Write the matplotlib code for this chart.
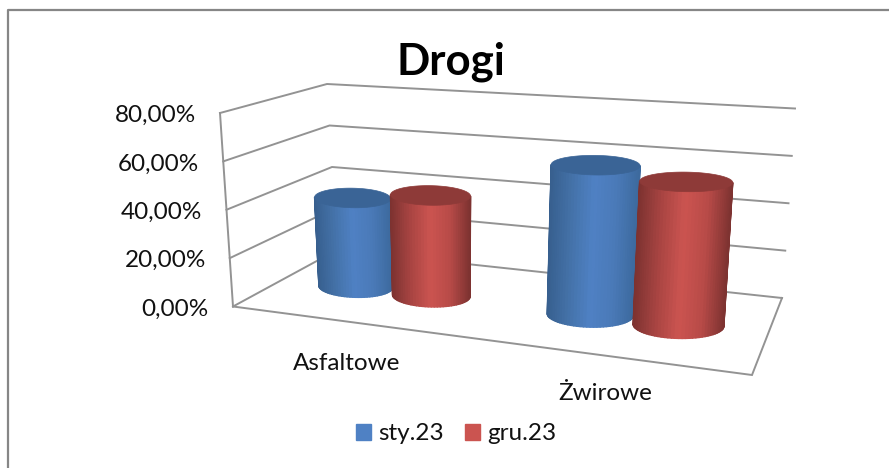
import matplotlib
matplotlib.use('Agg')
import matplotlib.pyplot as plt
from matplotlib.collections import PolyCollection
from matplotlib.patches import Patch
import numpy as np

plt.rcParams['font.family'] = ['Lato', 'DejaVu Sans']

# data
categories = ['Asfaltowe', 'Żwirowe']
series_names = ['sty.23', 'gru.23']
sty_values = [38.6, 60.5]
gru_values = [42.6, 56.5]
y_ticks = [0, 20, 40, 60, 80]
y_labels = ['0,00%', '20,00%', '40,00%', '60,00%', '80,00%']

# box corners on screen: (front left, back left, back right, front right)
FLOOR = [(233, 306.5), (337, 250), (782, 298), (752, 375)]
TOP = [(220, 113), (327, 84), (795, 108.5), (767, 147)]
Y_MAX = 80

CENTERS_U = [0.251, 0.752]
DEPTH_D = 0.46
BAR_U = 0.085
RADIUS_U = 0.085
BASE_DEPTH = 0.18  # base ellipse height, share of the floor depth at that spot
CAP_HALF = 9.8     # cap ellipse half height in px
TILT = 0.2         # the ellipses are flatter on screen than the floor slope
BLUE = {'stops': ['#375F8E', '#4472A8', '#4F81C4', '#4A7AB8', '#3D6A9E'], 'top': '#3A6496'}
RED = {'stops': ['#7C3230', '#A84442', '#CB5450', '#B84B48', '#7E3331'], 'top': '#8E3A38'}
GRID = '#939393'


def homography(corners):
    # unit square (u, d) to screen
    src = [(0, 0), (0, 1), (1, 1), (1, 0)]
    a, b = [], []
    for (u, d), (x, y) in zip(src, corners):
        a.append([u, d, 1, 0, 0, 0, -u * x, -d * x])
        a.append([0, 0, 0, u, d, 1, -u * y, -d * y])
        b += [x, y]
    return np.append(np.linalg.solve(np.array(a, float), np.array(b, float)), 1).reshape(3, 3)


H_FLOOR = homography(FLOOR)
H_TOP = homography(TOP)


def apply_h(h, u, d):
    p = h @ np.array([u, d, np.ones_like(u)], float)
    return p[0] / p[2], p[1] / p[2]


def project(u, d, v):
    u = np.asarray(u, float)
    d = np.asarray(d, float)
    x0, y0 = apply_h(H_FLOOR, u, d)
    x1, y1 = apply_h(H_TOP, u, d)
    k = v / Y_MAX
    return x0 + (x1 - x0) * k, y0 + (y1 - y0) * k


def ellipse(uc, v, half_h, th):
    # long axis follows the category direction, short axis stays upright on screen
    xs, ys = project([uc - RADIUS_U, uc + RADIUS_U], [DEPTH_D, DEPTH_D], v)
    x = xs.mean() + 0.5 * (xs[1] - xs[0]) * np.cos(th)
    y = ys.mean() + TILT * 0.5 * (ys[1] - ys[0]) * np.cos(th) + half_h * np.sin(th)
    return x, y


def draw_cylinder(ax, uc, value, style, z):
    _, yd = project([uc, uc], [0, 1], 0)
    base_half = BASE_DEPTH * (yd[0] - yd[1])

    # front half, left to right
    th = np.linspace(np.pi, 0, 41)
    xb, yb = ellipse(uc, 0, base_half, th)
    xt, yt = ellipse(uc, value, CAP_HALF, th)

    stops = np.array([matplotlib.colors.to_rgb(c) for c in style['stops']])
    pos = np.linspace(0, 1, len(stops))
    quads, cols = [], []
    for i in range(len(th) - 1):
        quads.append([(xb[i], yb[i]), (xb[i + 1], yb[i + 1]), (xt[i + 1], yt[i + 1]), (xt[i], yt[i])])
        s = (0.5 * (xb[i] + xb[i + 1]) - xb[0]) / (xb[-1] - xb[0])
        cols.append([np.interp(s, pos, stops[:, j]) for j in range(3)])
    ax.add_collection(PolyCollection(quads, facecolors=cols, edgecolors=cols, linewidths=1.0, zorder=z))

    xc, yc = ellipse(uc, value, CAP_HALF, np.linspace(0, 2 * np.pi, 121))
    ax.fill(xc, yc, color=style['top'], lw=0.5, zorder=z + 0.1)


fig = plt.figure(figsize=(8.89, 4.68), dpi=100)
ax = fig.add_axes([0, 0, 1, 1])
ax.set_xlim(0, 889)
ax.set_ylim(468, 0)
ax.axis('off')

# outer frame, only left and top are in the crop
ax.plot([7.5, 7.5, 889], [468, 9.5, 9.5], color='#868686', lw=1.6, zorder=1)

# grid on side and back wall
for t, lab in zip(y_ticks, y_labels):
    x, y = project([0, 0, 1], [0, 1, 1], t)
    ax.plot(x, y, color=GRID, lw=1.4, zorder=2, solid_joinstyle='miter')
    ax.text(x[0] - 24, y[0] + 2.5, lab, ha='right', va='center', fontsize=17.5, color='#111111')

# floor front and right edge, and the vertical on the left
x, y = project([0, 1, 1], [0, 0, 1], 0)
ax.plot(x, y, color=GRID, lw=1.4, zorder=2, solid_joinstyle='miter')
x, y = project([0, 0], [0, 0], np.array([0, Y_MAX]))
ax.plot(x, y, color=GRID, lw=1.4, zorder=2)

# cylinders
z = 3
for c, a, b in zip(CENTERS_U, sty_values, gru_values):
    draw_cylinder(ax, c - BAR_U, a, BLUE, z)
    draw_cylinder(ax, c + BAR_U, b, RED, z + 1)
    z += 2

ax.text(347, 363, categories[0], ha='center', va='center', fontsize=17.5, color='#111111')
ax.text(605, 394, categories[1], ha='center', va='center', fontsize=17.5, color='#111111')
ax.text(450.5, 62, 'Drogi', ha='center', va='center', fontsize=31.5, fontweight='bold', color='black')

handles = [Patch(color=BLUE['stops'][2], label=series_names[0]),
           Patch(color=RED['stops'][2], label=series_names[1])]
ax.legend(handles=handles, ncol=2, loc='center', bbox_to_anchor=(456, 434), bbox_transform=ax.transData,
          frameon=False, fontsize=17.5, handlelength=0.62, handleheight=0.62, handletextpad=0.3,
          columnspacing=0.85, borderpad=0, labelcolor='#111111')

fig.savefig('out.png', dpi=100)
